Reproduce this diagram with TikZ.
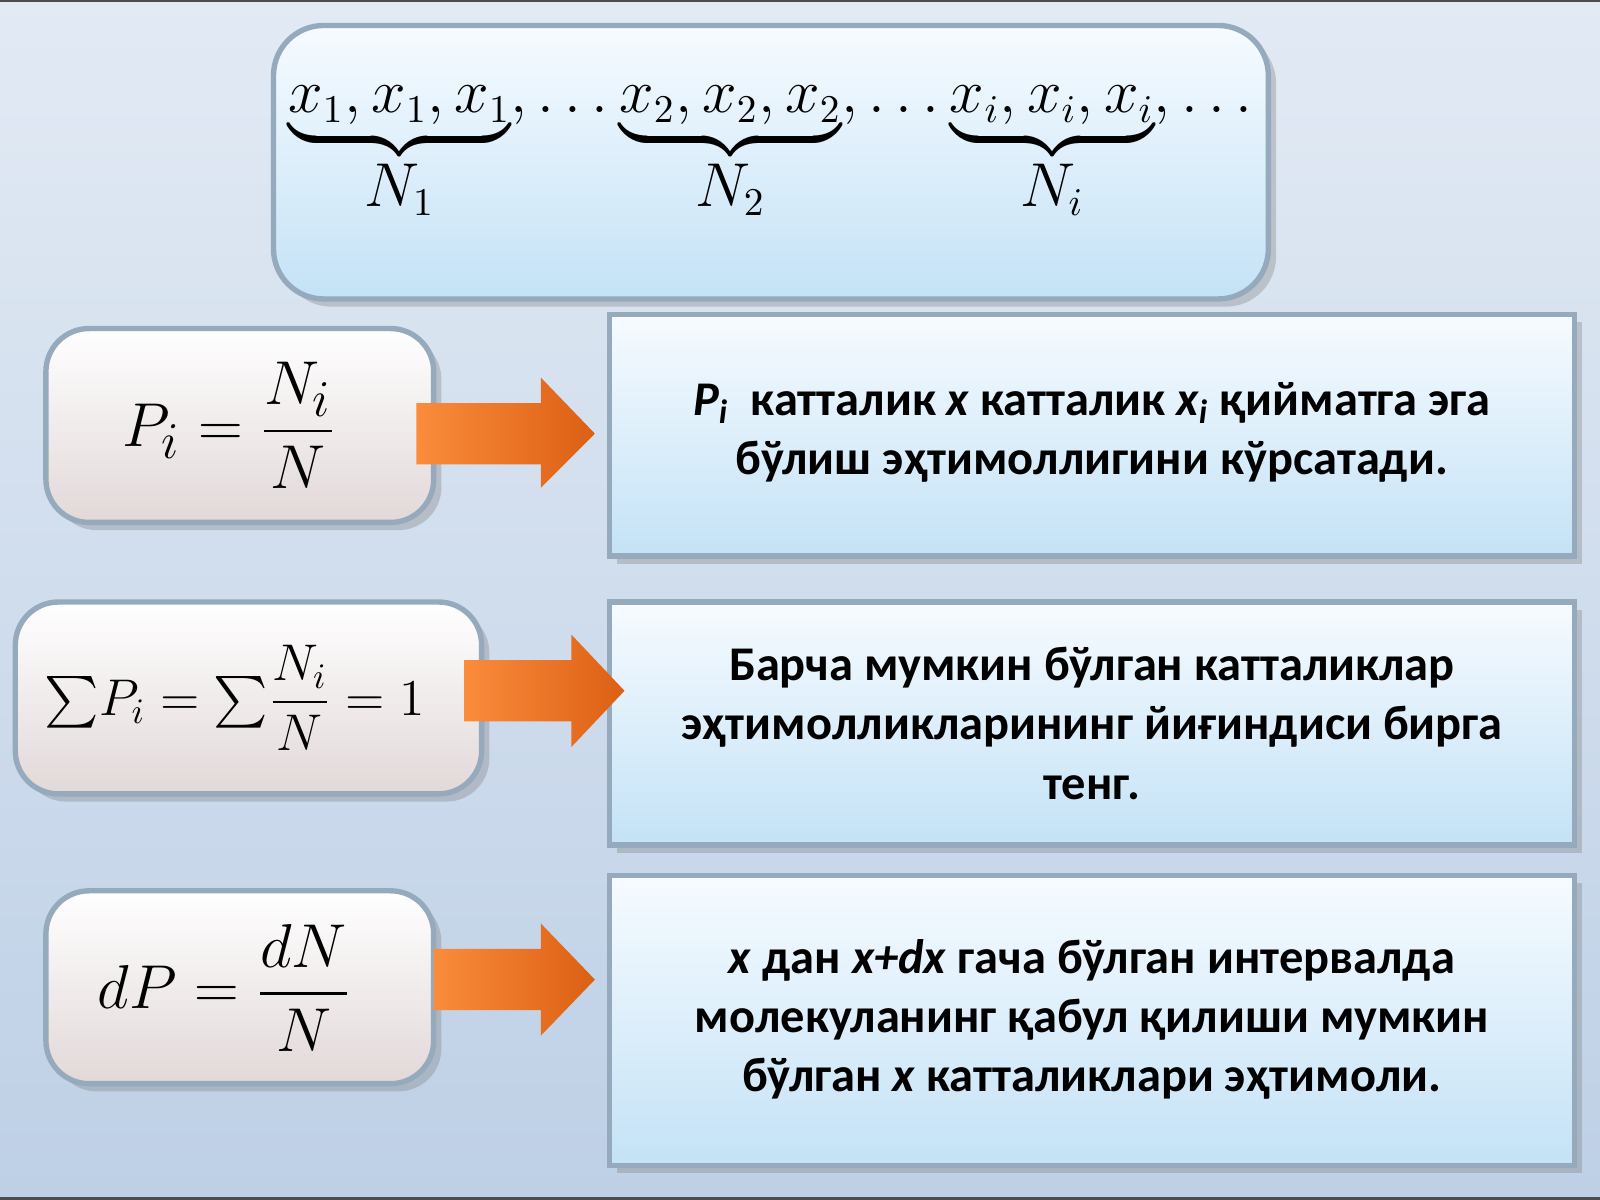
\documentclass[tikz,border=0pt]{standalone}
\usepackage{fontspec}
\usepackage{amsmath}
\setsansfont{Carlito}
\usetikzlibrary{shadows}
\definecolor{bgA}{RGB}{226,234,244}
\definecolor{bgB}{RGB}{190,208,230}
\definecolor{boxA}{RGB}{246,251,255}
\definecolor{boxB}{RGB}{196,226,246}
\definecolor{pinkA}{RGB}{255,255,255}
\definecolor{pinkB}{RGB}{226,216,216}
\definecolor{edge}{RGB}{150,170,190}
\definecolor{orangeA}{RGB}{250,140,60}
\definecolor{orangeB}{RGB}{220,95,20}
\tikzset{
 bluebox/.style={draw=edge,line width=1.5pt,top color=boxA,bottom color=boxB,drop shadow={opacity=0.35}},
 formbox/.style={draw=edge,line width=1.5pt,rounded corners=12pt,top color=pinkA,bottom color=pinkB,drop shadow={opacity=0.35}},
 txt/.style={font=\sffamily\bfseries\fontsize{13.5}{16.5}\selectfont,align=center,text=black},
 frm/.style={font=\fontsize{19}{23}\selectfont},
 arr/.style={left color=orangeA,right color=orangeB,draw=none}
}
\begin{document}
\begin{tikzpicture}[x=1cm,y=1cm]
\useasboundingbox (0,0) rectangle (15.68,11.76);
\shade[top color=bgA,bottom color=bgB] (0,0) rectangle (15.68,11.76);
\fill[black!70] (0,11.74) rectangle (15.68,11.76);
\fill[black!70] (0,0) rectangle (15.68,0.03);
% top box
\draw[bluebox,rounded corners=14pt] (2.68,8.83) rectangle (12.43,11.51);
\node (top) at (7.55,10.25) {\fontsize{16}{19}\selectfont$\underbrace{x_1,x_1,x_1}_{\displaystyle N_1},\ldots\underbrace{x_2,x_2,x_2}_{\displaystyle N_2},\ldots\underbrace{x_i,x_i,x_i}_{\displaystyle N_i},\ldots$};
% left formula boxes
\draw[formbox] (0.45,6.64) rectangle (4.25,8.54);
\node[frm] (f1) at (2.25,7.59) {$P_i=\dfrac{N_i}{N}$};
\draw[formbox] (0.15,3.98) rectangle (4.72,5.86);
\node[font=\fontsize{14.5}{18}\selectfont] (f2) at (2.3,4.92) {$\sum\! P_i=\sum\!\dfrac{N_i}{N}=1$};
\draw[formbox] (0.45,1.14) rectangle (4.25,3.03);
\node[frm] (f3) at (2.2,2.08) {$dP=\dfrac{dN}{N}$};
% right boxes
\draw[bluebox] (5.97,6.31) rectangle (15.43,8.68);
\node[txt] (t1) at (10.7,7.52) {\textit{P\textsubscript{i}}\ \ катталик \textit{x} катталик \textit{x\textsubscript{i}} қийматга эга\\бўлиш эҳтимоллигини кўрсатади.};
\draw[bluebox] (5.97,3.48) rectangle (15.43,5.86);
\node[txt] (t2) at (10.7,4.67) {Барча мумкин бўлган катталиклар\\эҳтимолликларининг йиғиндиси бирга\\тенг.};
\draw[bluebox] (5.97,0.34) rectangle (15.43,3.18);
\node[txt] (t3) at (10.7,1.77) {\textit{x} дан \textit{x+dx} гача бўлган интервалда\\молекуланинг қабул қилиши мумкин\\бўлган \textit{x} катталиклари эҳтимоли.};
% arrows
\shade[arr] (4.08,7.21) -- (5.3,7.21) -- (5.3,6.98) -- (5.83,7.51) -- (5.3,8.06) -- (5.3,7.81) -- (4.08,7.81) -- cycle;
\shade[arr] (4.55,4.69) -- (5.6,4.69) -- (5.6,4.44) -- (6.12,4.99) -- (5.6,5.54) -- (5.6,5.29) -- (4.55,5.29) -- cycle;
\shade[arr] (4.25,1.86) -- (5.3,1.86) -- (5.3,1.61) -- (5.83,2.16) -- (5.3,2.71) -- (5.3,2.46) -- (4.25,2.46) -- cycle;
\end{tikzpicture}
\end{document}
